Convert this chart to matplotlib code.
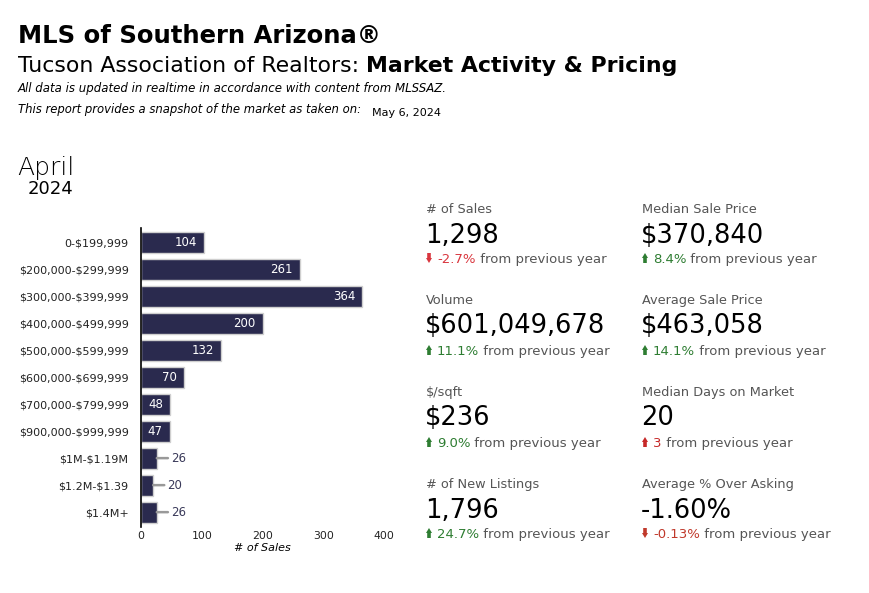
import matplotlib
matplotlib.use("Agg")
import matplotlib.pyplot as plt
from matplotlib.patches import Polygon

W, H = 869, 593
plt.rcParams['font.family'] = ['DejaVu Sans']
plt.rcParams['text.parse_math'] = False

# ---------------- data ----------------
price_ranges = ["0-$199,999", "$200,000-$299,999", "$300,000-$399,999",
                "$400,000-$499,999", "$500,000-$599,999", "$600,000-$699,999",
                "$700,000-$799,999", "$900,000-$999,999", "$1M-$1.19M",
                "$1.2M-$1.39", "$1.4M+"]
sales_counts = [104, 261, 364, 200, 132, 70, 48, 47, 26, 20, 26]
x_ticks = [0, 100, 200, 300, 400]

kpi_labels = ["# of Sales", "Median Sale Price", "Volume", "Average Sale Price",
              "$/sqft", "Median Days on Market", "# of New Listings",
              "Average % Over Asking"]
kpi_values = ["1,298", "$370,840", "$601,049,678", "$463,058",
              "$236", "20", "1,796", "-1.60%"]
kpi_changes = ["-2.7%", "8.4%", "11.1%", "14.1%", "9.0%", "3", "24.7%", "-0.13%"]
kpi_direction = ["down", "up", "up", "up", "up", "up", "up", "down"]
kpi_colors = ["#d9363e", "#2e7d32", "#2e7d32", "#2e7d32", "#2e7d32",
              "#c62828", "#2e7d32", "#c0392b"]

BAR = "#2a2a4e"
GRAY = "#555555"

fig = plt.figure(figsize=(W / 100, H / 100), dpi=100)
fig.patch.set_facecolor("white")


def fx(x):
    return x / W


def fy(y):
    return 1 - y / H


def T(x, y, s, **kw):
    kw.setdefault("va", "baseline")
    return fig.text(fx(x), fy(y), s, **kw)


# ---------------- header ----------------
T(18, 43, "MLS of Southern Arizona®", fontsize=17.5, fontweight="bold", color="black")
t1 = T(18, 72, "Tucson Association of Realtors: ", fontsize=15.8, color="black")
fig.add_artist(plt.Annotation("Market Activity & Pricing", xy=(1, 0), xycoords=t1,
                              va="bottom", ha="left", fontsize=15.8,
                              fontweight="bold", color="black"))
T(18, 92, "All data is updated in realtime in accordance with content from MLSSAZ.",
  fontsize=8.5, style="italic", color="black")
T(18, 113, "This report provides a snapshot of the market as taken on:",
  fontsize=8.4, style="italic", color="black")
T(372, 116, "May 6, 2024", fontsize=8, color="black")

T(17, 175, "April", fontsize=18, color="black", fontweight="light")
T(28, 194, "2024", fontsize=13, color="black")

# ---------------- bar chart ----------------
ax_left, ax_right = 141, 384
ax_top, ax_bot = 228, 527
ax = fig.add_axes([fx(ax_left), fy(ax_bot), (ax_right - ax_left) / W, (ax_bot - ax_top) / H])
ypos = list(range(len(price_ranges)))
ax.barh(ypos, sales_counts, height=0.78, color=BAR, edgecolor="#cfcfcf", linewidth=1.0)
ax.set_xlim(0, 400)
ax.set_ylim(len(price_ranges) - 0.45, -0.52)
ax.set_yticks(ypos)
ax.set_yticklabels(price_ranges, fontsize=8, color="#222222")
ax.set_xticks(x_ticks)
ax.set_xticklabels([str(t) for t in x_ticks], fontsize=7.8, color="#222222")
ax.tick_params(axis="both", length=0)
ax.tick_params(axis="y", pad=9)
ax.tick_params(axis="x", pad=3)
for s in ["top", "right", "bottom"]:
    ax.spines[s].set_visible(False)
ax.spines["left"].set_color("black")
ax.spines["left"].set_linewidth(1.2)
ax.set_xlabel("# of Sales", fontsize=8, style="italic", labelpad=1)

for i, v in enumerate(sales_counts):
    if v >= 40:
        ax.annotate(str(v), xy=(v, i), xytext=(-5, 0), textcoords="offset points",
                    ha="right", va="center", color="white", fontsize=8.5)
    else:
        ax.annotate(str(v), xy=(v, i), xytext=(10, 0), textcoords="offset points",
                    ha="left", va="center", color="#3a3a5a", fontsize=8.5,
                    arrowprops=dict(arrowstyle="-", color="#999999", lw=1.8,
                                    shrinkA=0, shrinkB=0))

# ---------------- KPI panel ----------------
col_x = [426, 642]
label_base = [213, 304, 396, 488]
value_base = [243, 333, 425, 518]
change_base = [263, 355, 447, 538]


def arrow(x, y, direction, color):
    w, h = 6, 10
    if direction == "up":
        pts = [(x + 1.2, y), (x + 1.2, y - 5), (x, y - 5), (x + w / 2, y - h),
               (x + w, y - 5), (x + w - 1.2, y - 5), (x + w - 1.2, y)]
    else:
        pts = [(x + 1.2, y - h), (x + 1.2, y - 5), (x, y - 5), (x + w / 2, y),
               (x + w, y - 5), (x + w - 1.2, y - 5), (x + w - 1.2, y - h)]
    poly = Polygon([(fx(a), fy(b)) for a, b in pts], closed=True,
                   transform=fig.transFigure, facecolor=color, edgecolor="none")
    fig.add_artist(poly)


for k in range(len(kpi_labels)):
    row, col = divmod(k, 2)
    x = col_x[col]
    T(x, label_base[row], kpi_labels[k], fontsize=9.3, color=GRAY)
    T(x - 1, value_base[row], kpi_values[k], fontsize=18.5, color="black")
    arrow(x, change_base[row], kpi_direction[k], kpi_colors[k])
    tc = T(x + 11, change_base[row], kpi_changes[k], fontsize=9.5, color=kpi_colors[k])
    fig.add_artist(plt.Annotation(" from previous year", xy=(1, 0), xycoords=tc,
                                  va="bottom", ha="left", fontsize=9.5, color=GRAY))

fig.savefig("out.png", dpi=100, facecolor="white")
